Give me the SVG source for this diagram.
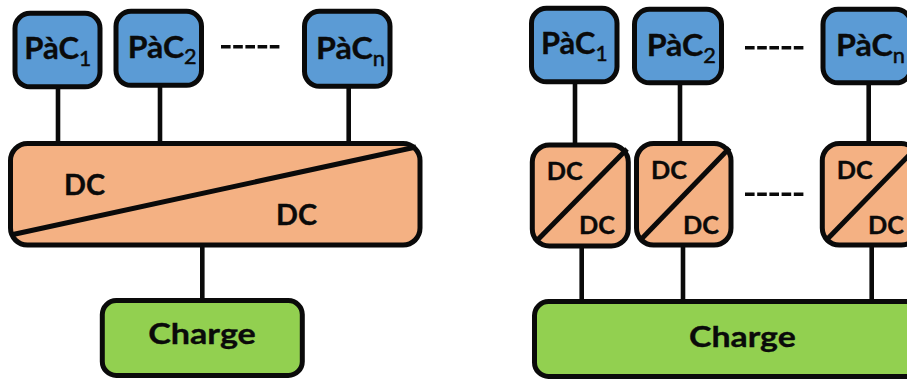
<svg xmlns="http://www.w3.org/2000/svg" width="907" height="379" viewBox="0 0 907 379">
<style>
text{font-family:"Lato","Liberation Sans",sans-serif;font-weight:700;fill:#0a0a0a;stroke:#0a0a0a;stroke-width:.35px}
.box{stroke:#0a0a0a;stroke-width:5}
.pac{fill:#5B9BD5}
.dc{fill:#F4B183}
.ch{fill:#92D050}
.ln{stroke:#0a0a0a;stroke-width:4.6;fill:none}
.diag{stroke:#0a0a0a;stroke-width:5;fill:none}
.dash{stroke:#0a0a0a;stroke-width:3.4;stroke-dasharray:9.6 2.6;fill:none}
.p{font-size:31px}
.s{font-size:21px;font-weight:400;stroke-width:.5px}
.d1{font-size:28px}
.d2{font-size:25px}
.c{font-size:29px}
</style>
<rect width="907" height="379" fill="#fff"/>
<g id="connectors">
<path class="ln" d="M58 87V144M160 85V144M348.700 86V144M202.300 245V301"/>
<path class="ln" d="M575 82V146M680 83V144M868.700 83V144M581.700 246V303M683 245V303M871.700 245V303"/>
<path class="dash" d="M221 46.700H281"/>
<path class="dash" d="M745 47.700H805"/>
<path class="dash" d="M745 194.300H805"/>
</g>
<g id="pac1-a"><rect class="box pac" x="15" y="13.300" width="85" height="73.500" rx="15"/><text class="p" x="24.300" y="59.300" textLength="67" lengthAdjust="spacingAndGlyphs">PàC<tspan class="s" dy="6.500">1</tspan></text></g>
<g id="pac2-a"><rect class="box pac" x="116" y="11.300" width="85.500" height="74" rx="15"/><text class="p" x="127.700" y="57.700" textLength="69" lengthAdjust="spacingAndGlyphs">PàC<tspan class="s" dy="6.500">2</tspan></text></g>
<g id="pacn-a"><rect class="box pac" x="304.500" y="11.300" width="85.500" height="75" rx="15"/><text class="p" x="316" y="59" textLength="69" lengthAdjust="spacingAndGlyphs">PàC<tspan class="s" dy="6.500">n</tspan></text></g>
<g id="dc-a"><rect class="box dc" x="10.500" y="143.600" width="409.500" height="101.500" rx="17"/><path class="diag" d="M13 234.500L416 147"/><text class="d1" x="64" y="195" textLength="41" lengthAdjust="spacingAndGlyphs">DC</text><text class="d1" x="276" y="225" textLength="41" lengthAdjust="spacingAndGlyphs">DC</text></g>
<g id="charge-a"><rect class="box ch" x="102.300" y="300.600" width="200" height="74.800" rx="14"/><text class="c" x="148.300" y="344" textLength="107.500" lengthAdjust="spacingAndGlyphs">Charge</text></g>
<g id="pac1-b"><rect class="box pac" x="531.500" y="8.300" width="85.500" height="73.500" rx="15"/><text class="p" x="541" y="54" textLength="66.500" lengthAdjust="spacingAndGlyphs">PàC<tspan class="s" dy="6.500">1</tspan></text></g>
<g id="pac2-b"><rect class="box pac" x="634.500" y="9.300" width="87" height="73.500" rx="15"/><text class="p" x="646.700" y="56" textLength="69.300" lengthAdjust="spacingAndGlyphs">PàC<tspan class="s" dy="6.500">2</tspan></text></g>
<g id="pacn-b"><rect class="box pac" x="823" y="9.300" width="88" height="73.500" rx="15"/><text class="p" x="836" y="56" textLength="69" lengthAdjust="spacingAndGlyphs">PàC<tspan class="s" dy="6.500">n</tspan></text></g>
<g id="dc1-b"><rect class="box dc" x="532.300" y="145" width="96" height="101" rx="17"/><path class="diag" d="M535.500 242L627 149"/><text class="d2" x="546.700" y="180" textLength="36" lengthAdjust="spacingAndGlyphs">DC</text><text class="d2" x="579" y="233.500" textLength="36" lengthAdjust="spacingAndGlyphs">DC</text></g>
<g id="dc2-b"><rect class="box dc" x="636.500" y="143.600" width="94.500" height="101.500" rx="17"/><path class="diag" d="M639.500 241L729.500 148"/><text class="d2" x="651" y="179" textLength="36" lengthAdjust="spacingAndGlyphs">DC</text><text class="d2" x="683" y="233.500" textLength="36" lengthAdjust="spacingAndGlyphs">DC</text></g>
<g id="dcn-b"><rect class="box dc" x="822.300" y="143.600" width="96" height="101.500" rx="17"/><path class="diag" d="M825.500 241L916 148"/><text class="d2" x="836.700" y="179" textLength="36" lengthAdjust="spacingAndGlyphs">DC</text><text class="d2" x="868" y="233.500" textLength="36" lengthAdjust="spacingAndGlyphs">DC</text></g>
<g id="charge-b"><rect class="box ch" x="534.500" y="301.600" width="400" height="74.800" rx="14"/><text class="c" x="689" y="346.700" textLength="106.700" lengthAdjust="spacingAndGlyphs">Charge</text></g>
</svg>
